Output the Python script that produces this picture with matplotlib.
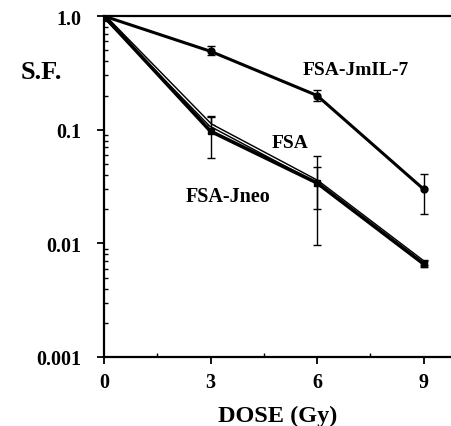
import matplotlib
matplotlib.use('Agg')
import matplotlib.pyplot as plt
from matplotlib.ticker import FixedLocator, NullFormatter

plt.rcParams['font.family'] = ['Liberation Serif', 'DejaVu Serif']
plt.rcParams['font.weight'] = 'bold'

dose = [0, 3, 6, 9]

# survival fractions
il7_sf = [1.0, 0.49, 0.20, 0.030]
il7_err_lo = [0.0, 0.04, 0.02, 0.012]
il7_err_hi = [0.0, 0.05, 0.025, 0.011]

fsa_sf = [1.0, 0.11, 0.035, 0.0068]
fsa_err_lo = [0.0, 0.0, 0.015, 0.0004]
fsa_err_hi = [0.0, 0.02, 0.012, 0.0004]

jneo_sf = [1.0, 0.097, 0.034, 0.0066]
jneo_err_lo = [0.0, 0.041, 0.0244, 0.0004]
jneo_err_hi = [0.0, 0.035, 0.025, 0.0004]

fig = plt.figure(figsize=(4.52, 4.27), dpi=100)
ax = fig.add_axes([0.230, 0.1616, 0.770, 0.7984])

# FSA-JmIL-7
ax.errorbar(dose, il7_sf, yerr=[il7_err_lo, il7_err_hi], color='black', lw=2.2,
            marker='o', ms=5, capsize=3, elinewidth=1, capthick=1, zorder=3)
# FSA-Jneo
ax.errorbar(dose, jneo_sf, yerr=[jneo_err_lo, jneo_err_hi], color='black', lw=2.6,
            marker='s', ms=4.5, capsize=3, elinewidth=1, capthick=1, zorder=3)
# FSA (hollow double line)
ax.errorbar(dose, fsa_sf, yerr=[fsa_err_lo, fsa_err_hi], color='black', lw=3.0,
            capsize=3, elinewidth=1, capthick=1, zorder=2)
ax.plot(dose, fsa_sf, color='white', lw=0.9, zorder=2.5)

ax.set_yscale('log')
ax.set_ylim(0.001, 1.0)
ax.set_xlim(0, 9.8)

ax.spines['right'].set_visible(False)
for s in ['left', 'bottom', 'top']:
    ax.spines[s].set_linewidth(1.6)

ax.xaxis.set_major_locator(FixedLocator([0, 3, 6, 9]))
ax.xaxis.set_minor_locator(FixedLocator([1.5, 4.5, 7.5]))
ax.set_xticklabels(['0', '3', '6', '9'])
ax.set_yticks([0.001, 0.01, 0.1, 1.0])
ax.set_yticklabels(['0.001', '0.01', '0.1', '1.0'])
ax.yaxis.set_minor_formatter(NullFormatter())

ax.tick_params(axis='both', which='major', direction='out', length=5, width=1.3,
               labelsize=14.5, top=False, right=False)
ax.tick_params(axis='x', which='major', pad=6)
ax.tick_params(axis='y', which='major', pad=11)
ax.tick_params(axis='both', which='minor', direction='in', length=3, width=1,
               top=False, right=False)
for lab in ax.get_xticklabels() + ax.get_yticklabels():
    lab.set_fontweight('bold')

ax.set_xlabel('DOSE (Gy)', fontsize=17.5, fontweight='bold', labelpad=9)
fig.text(0.045, 0.83, 'S.F.', fontsize=19, fontweight='bold', va='center')

ax.text(7.1, 0.31, 'FSA-JmIL-7', fontsize=14, fontweight='bold', ha='center')
ax.text(5.24, 0.071, 'FSA', fontsize=14, fontweight='bold', ha='center')
ax.text(3.5, 0.0234, 'FSA-Jneo', fontsize=14.5, fontweight='bold', ha='center')

fig.savefig('out.png', dpi=100)
